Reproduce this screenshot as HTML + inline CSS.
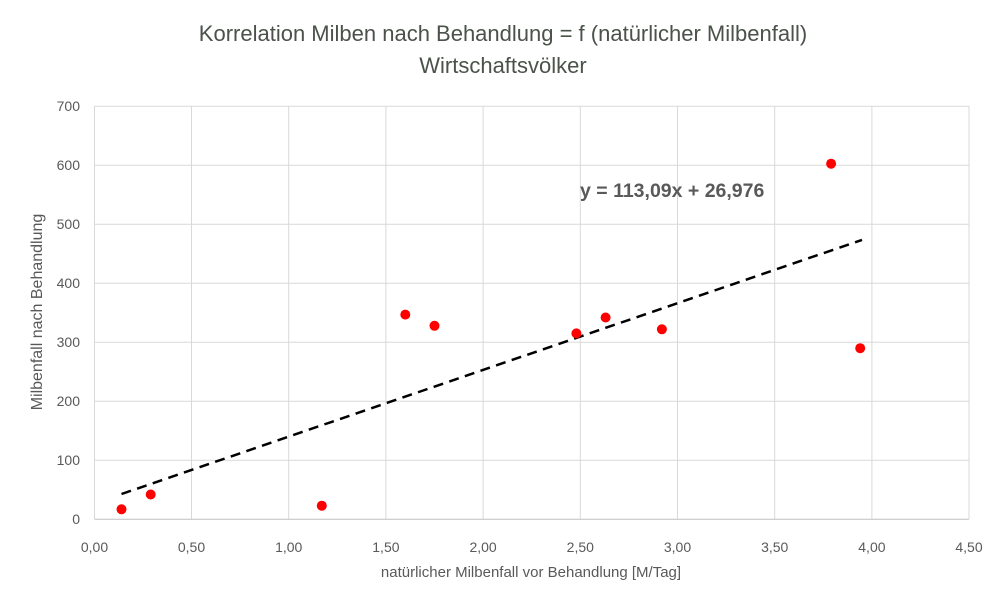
<!DOCTYPE html>
<html><head><meta charset="utf-8"><style>body{margin:0;background:#fff}svg{display:block}</style></head><body>
<svg width="996" height="589" xmlns="http://www.w3.org/2000/svg" font-family="Liberation Sans, sans-serif">
<rect width="996" height="589" fill="#fff"/>
<g stroke="#d9d9d9" stroke-width="1">
<line x1="94.5" y1="106.3" x2="969" y2="106.3"/><line x1="94.5" y1="165.3" x2="969" y2="165.3"/><line x1="94.5" y1="224.3" x2="969" y2="224.3"/><line x1="94.5" y1="283.3" x2="969" y2="283.3"/><line x1="94.5" y1="342.3" x2="969" y2="342.3"/><line x1="94.5" y1="401.3" x2="969" y2="401.3"/><line x1="94.5" y1="460.3" x2="969" y2="460.3"/>
<line x1="191.5" y1="106" x2="191.5" y2="519"/><line x1="288.7" y1="106" x2="288.7" y2="519"/><line x1="385.9" y1="106" x2="385.9" y2="519"/><line x1="483.1" y1="106" x2="483.1" y2="519"/><line x1="580.3" y1="106" x2="580.3" y2="519"/><line x1="677.5" y1="106" x2="677.5" y2="519"/><line x1="774.7" y1="106" x2="774.7" y2="519"/><line x1="871.9" y1="106" x2="871.9" y2="519"/><line x1="969" y1="106" x2="969" y2="519"/>
<line x1="94.5" y1="106" x2="94.5" y2="519"/>
</g>
<line x1="94.5" y1="519.3" x2="969" y2="519.3" stroke="#bfbfbf"/>
<line x1="121.5" y1="494" x2="862" y2="239.9" stroke="#000" stroke-width="2.5" stroke-dasharray="10,6.5"/>
<g fill="#ff0000">
<circle cx="121.5" cy="509.3" r="5"/><circle cx="150.7" cy="494.5" r="5"/><circle cx="321.8" cy="505.7" r="5"/><circle cx="405.3" cy="314.6" r="5"/><circle cx="434.5" cy="325.8" r="5"/><circle cx="576.4" cy="333.4" r="5"/><circle cx="605.6" cy="317.5" r="5"/><circle cx="661.9" cy="329.3" r="5"/><circle cx="831.1" cy="163.7" r="5"/><circle cx="860.2" cy="348.2" r="5"/>
</g>
<g fill="#595959" font-size="14" text-anchor="end">
<text x="80" y="111">700</text><text x="80" y="170">600</text><text x="80" y="229">500</text><text x="80" y="288">400</text><text x="80" y="347">300</text><text x="80" y="406">200</text><text x="80" y="465">100</text><text x="80" y="524">0</text>
</g>
<g fill="#595959" font-size="14" text-anchor="middle">
<text x="94.5" y="552">0,00</text><text x="191.5" y="552">0,50</text><text x="288.7" y="552">1,00</text><text x="385.9" y="552">1,50</text><text x="483.1" y="552">2,00</text><text x="580.3" y="552">2,50</text><text x="677.5" y="552">3,00</text><text x="774.7" y="552">3,50</text><text x="871.9" y="552">4,00</text><text x="969" y="552">4,50</text>
<text x="531" y="577" font-size="15">natürlicher Milbenfall vor Behandlung [M/Tag]</text>
<text transform="translate(42,312) rotate(-90)" font-size="16">Milbenfall nach Behandlung</text>
<text x="503" y="41" font-size="22" fill="#4a524a">Korrelation Milben nach Behandlung = f (natürlicher Milbenfall)</text>
<text x="503" y="73" font-size="22" fill="#4a524a">Wirtschaftsvölker</text>
</g>
<text x="580" y="197" fill="#595959" font-size="19.5" font-weight="bold">y = 113,09x + 26,976</text>
</svg>
</body></html>
